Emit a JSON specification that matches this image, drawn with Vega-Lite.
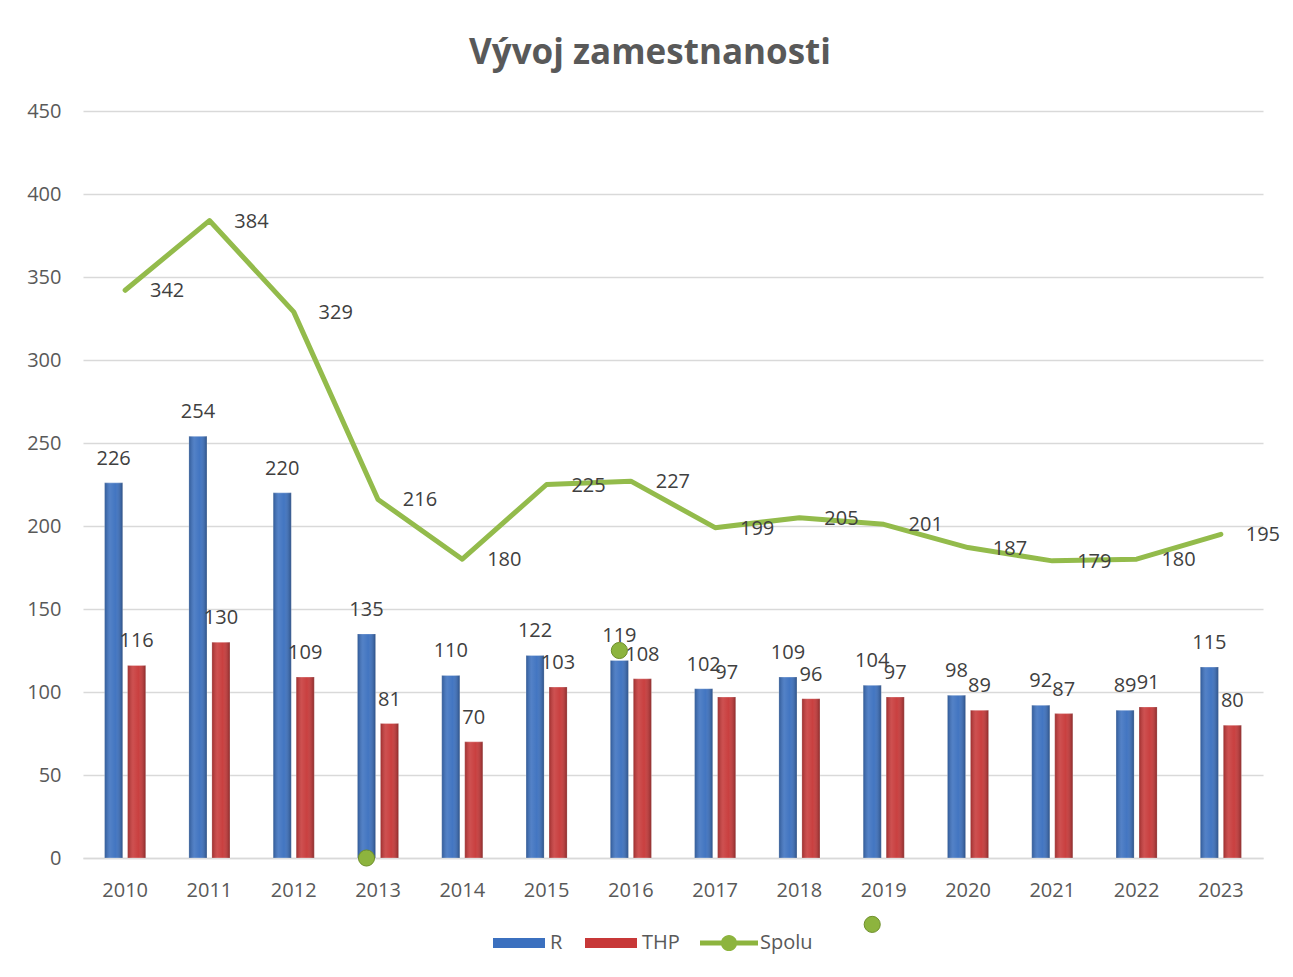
{
  "$schema": "https://vega.github.io/schema/vega-lite/v6.json",
  "width": 1180,
  "height": 747,
  "autosize": {"type": "none"},
  "padding": {"left": 83, "top": 111, "right": 30, "bottom": 119},
  "background": "white",
  "config": {
    "view": {"stroke": null},
    "font": "Open Sans",
    "axisX": {"domainColor": "#d9d9d9", "domainWidth": 1.5, "ticks": false, "labelAngle": 0, "labelPadding": 22, "labelFontSize": 20, "labelColor": "#595959", "grid": false, "title": null},
    "axisY": {"domain": false, "ticks": false, "gridColor": "#d9d9d9", "gridWidth": 1.5, "labelPadding": 22, "labelFontSize": 20, "labelColor": "#595959", "title": null}
  },
  "title": {"text": "Vývoj zamestnanosti", "fontSize": 35, "fontWeight": "bold", "color": "#595959", "anchor": "middle", "baseline": "alphabetic", "offset": 2, "dx": -23},
  "datasets": {
    "bars": [
      {"year": "2010", "series": "R", "value": 226}, {"year": "2010", "series": "THP", "value": 116},
      {"year": "2011", "series": "R", "value": 254}, {"year": "2011", "series": "THP", "value": 130},
      {"year": "2012", "series": "R", "value": 220}, {"year": "2012", "series": "THP", "value": 109},
      {"year": "2013", "series": "R", "value": 135}, {"year": "2013", "series": "THP", "value": 81},
      {"year": "2014", "series": "R", "value": 110}, {"year": "2014", "series": "THP", "value": 70},
      {"year": "2015", "series": "R", "value": 122}, {"year": "2015", "series": "THP", "value": 103},
      {"year": "2016", "series": "R", "value": 119}, {"year": "2016", "series": "THP", "value": 108},
      {"year": "2017", "series": "R", "value": 102}, {"year": "2017", "series": "THP", "value": 97},
      {"year": "2018", "series": "R", "value": 109}, {"year": "2018", "series": "THP", "value": 96},
      {"year": "2019", "series": "R", "value": 104}, {"year": "2019", "series": "THP", "value": 97},
      {"year": "2020", "series": "R", "value": 98}, {"year": "2020", "series": "THP", "value": 89},
      {"year": "2021", "series": "R", "value": 92}, {"year": "2021", "series": "THP", "value": 87},
      {"year": "2022", "series": "R", "value": 89}, {"year": "2022", "series": "THP", "value": 91},
      {"year": "2023", "series": "R", "value": 115}, {"year": "2023", "series": "THP", "value": 80}
    ],
    "spolu": [
      {"year": "2010", "value": 342}, {"year": "2011", "value": 384}, {"year": "2012", "value": 329},
      {"year": "2013", "value": 216}, {"year": "2014", "value": 180}, {"year": "2015", "value": 225},
      {"year": "2016", "value": 227}, {"year": "2017", "value": 199}, {"year": "2018", "value": 205},
      {"year": "2019", "value": 201}, {"year": "2020", "value": 187}, {"year": "2021", "value": 179},
      {"year": "2022", "value": 180}, {"year": "2023", "value": 195}
    ],
    "stray": [
      {"year": "2013", "series": "R", "value": 0},
      {"year": "2016", "series": "R", "value": 125},
      {"year": "2019", "series": "R", "value": -40}
    ]
  },
  "encoding": {
    "x": {"field": "year", "type": "nominal", "scale": {"paddingInner": 0.454, "paddingOuter": 0.227}},
    "y": {"field": "value", "type": "quantitative", "scale": {"domain": [0, 450], "nice": false}, "axis": {"values": [0, 50, 100, 150, 200, 250, 300, 350, 400, 450]}}
  },
  "layer": [
    {
      "data": {"name": "bars"},
      "mark": {"type": "bar", "stroke": "#ffffff", "strokeOpacity": 0.3, "strokeWidth": 1},
      "encoding": {
        "xOffset": {"field": "series", "scale": {"domain": ["R", "THP"], "paddingInner": 0.217, "paddingOuter": 0.109}},
        "color": {
          "field": "series", "type": "nominal",
          "scale": {"domain": ["R", "THP"], "range": ["#3b70bf", "#c73838"]},
          "legend": {
            "title": null, "orient": "none", "legendX": 410, "legendY": 806, "direction": "horizontal",
            "padding": 0, "labelFontSize": 20, "labelColor": "#595959", "labelOffset": 5, "columnPadding": 22,
            "symbolSize": 2704, "symbolStrokeWidth": 0, "symbolType": "M-1,-0.19H1V0.19H-1Z"
          }
        }
      }
    },
    {
      "data": {"name": "bars"},
      "mark": {"type": "bar", "color": {"gradient": "linear", "x1": 0, "x2": 1, "y1": 0, "y2": 0, "stops": [
        {"offset": 0, "color": "rgba(0,0,0,0.22)"},
        {"offset": 0.3, "color": "rgba(255,255,255,0.12)"},
        {"offset": 0.6, "color": "rgba(255,255,255,0.04)"},
        {"offset": 1, "color": "rgba(0,0,0,0.3)"}
      ]}},
      "encoding": {
        "xOffset": {"field": "series"}
      }
    },
    {
      "data": {"name": "bars"},
      "mark": {"type": "text", "fontSize": 20, "color": "#404040", "baseline": "middle", "dy": -24},
      "encoding": {
        "xOffset": {"field": "series"},
        "text": {"field": "value", "type": "quantitative"}
      }
    },
    {
      "data": {"name": "spolu"},
      "mark": {"type": "line", "color": "#93bb4b", "strokeWidth": 5, "strokeJoin": "round", "strokeCap": "round"},
      "encoding": {}
    },
    {
      "data": {"name": "spolu"},
      "mark": {"type": "text", "fontSize": 20, "color": "#404040", "baseline": "middle", "dx": 42, "dy": 1},
      "encoding": {"text": {"field": "value", "type": "quantitative"}}
    },
    {
      "data": {"name": "stray"},
      "mark": {"type": "point", "shape": "circle", "filled": true, "size": 260, "stroke": "#6e8f2a", "strokeWidth": 1, "opacity": 1},
      "encoding": {
        "xOffset": {"field": "series"},
        "fill": {
          "datum": "Spolu",
          "scale": {"domain": ["Spolu"], "range": ["#8db43e"]},
          "legend": {
            "title": null, "orient": "none", "legendX": 617, "legendY": 803, "direction": "horizontal",
            "padding": 0, "labelFontSize": 20, "labelColor": "#595959", "labelOffset": 2,
            "symbolSize": 3364, "symbolStrokeWidth": 0, "symbolFillColor": "#8db43e",
            "symbolType": "M-1,-0.09H1V0.09H-1Z M0.28,0 A0.28,0.28 0 0,1 -0.28,0 A0.28,0.28 0 0,1 0.28,0 Z"
          }
        }
      }
    }
  ]
}
